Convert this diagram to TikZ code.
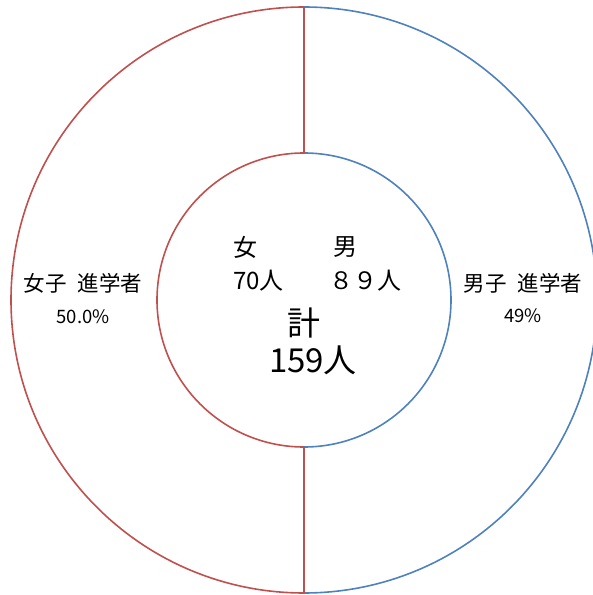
\documentclass[tikz,border=0pt]{standalone}
\usepackage{fontspec}
\setmainfont[WordSpace=2.2]{Noto Sans CJK JP}
\definecolor{girlred}{HTML}{C0504D}
\definecolor{boyblue}{HTML}{4F81BD}
\tikzset{x=1pt, y=1pt,
    ring/.style={
        line width=1.6pt},
    girls/.style={
        ring,
        draw=girlred},
    boys/.style={
        ring,
        draw=boyblue},
    share/.style={
        inner sep=0pt,
        anchor=base,
        font=\fontsize{21.5}{25}\selectfont},
    pct/.style={
        share,
        font=\fontsize{18.5}{22}\selectfont},
    count/.style={
        inner sep=0pt,
        anchor=base west,
        font=\fontsize{24}{28}\selectfont},
    total/.style={
        inner sep=0pt,
        anchor=base,
        font=\fontsize{33}{38}\selectfont}}

\begin{document}
\begin{tikzpicture}
        \useasboundingbox (0,0) rectangle (593,595);
        \clip (0,0) rectangle (593,595);

        \coordinate (ctr) at (304,295);
        \coordinate (outtop) at (304,588);
        \coordinate (outbot) at (304,2);
        \coordinate (intop) at (304,442);
        \coordinate (inbot) at (304,148);

        % outer ring
        \draw[boys] (outtop) arc[start angle=90, end angle=-90, radius=293];
        \draw[girls] (outtop) arc[start angle=90, end angle=270, radius=293];
        % inner ring
        \draw[boys] (intop) arc[start angle=90, end angle=-90, radius=147];
        \draw[girls] (intop) arc[start angle=90, end angle=270, radius=147];
        % dividers
        \draw[girls] (intop) -- (outtop);
        \draw[girls] (inbot) -- (outbot);

        \node[share] (girlshare) at (83,303) {女子 進学者};
        \node[pct] (girlpct) at (83,271) {50.0\%};
        \node[share] (boyshare) at (523,303) {男子 進学者};
        \node[pct] (boypct) at (523,272) {49\%};

        \node[count] (girlhead) at (233,338) {女};
        \node[count] (girlcount) at (233,305) {70人};
        \node[count] (boyhead) at (333,339) {男};
        \node[count] (boycount) at (329,305) {８９人};
        \node[total] (sumhead) at (304,259) {計};
        \node[total] (sumcount) at (313,222) {159人};
    \end{tikzpicture}
\end{document}
